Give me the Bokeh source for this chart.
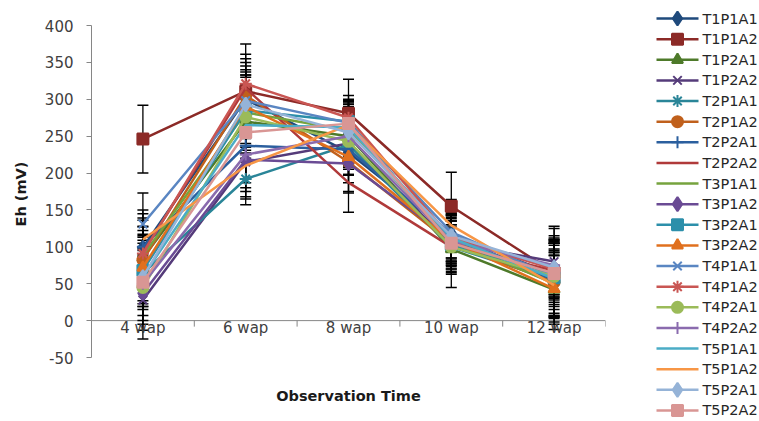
from bokeh.plotting import figure
from bokeh.layouts import row
from bokeh.models import (Range1d, FixedTicker, ColumnDataSource, Whisker, TeeHead, Span)
from bokeh.core.properties import value
from bokeh.embed import file_html
from bokeh.resources import INLINE

# ---------------- data ----------------
categories = ["4 wap", "6 wap", "8 wap", "10 wap", "12 wap"]
y_ticks = [-50, 0, 50, 100, 150, 200, 250, 300, 350, 400]

series_names = ["T1P1A1", "T1P1A2", "T1P2A1", "T1P2A2", "T2P1A1", "T2P1A2", "T2P2A1",
                "T2P2A2", "T3P1A1", "T3P1A2", "T3P2A1", "T3P2A2", "T4P1A1", "T4P1A2",
                "T4P2A1", "T4P2A2", "T5P1A1", "T5P1A2", "T5P2A1", "T5P2A2"]

eh_T1P1A1 = [99, 300, 228, 118, 62]
eh_T1P1A2 = [246, 311, 281, 155, 65]
eh_T1P2A1 = [85, 270, 250, 97, 42]
eh_T1P2A2 = [28, 215, 240, 105, 80]
eh_T2P1A1 = [64, 192, 238, 100, 55]
eh_T2P1A2 = [82, 305, 215, 105, 52]
eh_T2P2A1 = [100, 237, 232, 115, 55]
eh_T2P2A2 = [92, 315, 187, 100, 68]
eh_T3P1A1 = [88, 282, 258, 110, 50]
eh_T3P1A2 = [37, 218, 213, 110, 62]
eh_T3P2A1 = [68, 285, 270, 103, 58]
eh_T3P2A2 = [72, 290, 222, 108, 43]
eh_T4P1A1 = [131, 298, 268, 120, 60]
eh_T4P1A2 = [91, 321, 275, 112, 70]
eh_T4P2A1 = [45, 276, 243, 100, 60]
eh_T4P2A2 = [50, 225, 250, 108, 75]
eh_T5P1A1 = [60, 265, 262, 112, 57]
eh_T5P1A2 = [110, 210, 265, 129, 48]
eh_T5P2A1 = [59, 293, 255, 115, 72]
eh_T5P2A2 = [52, 255, 267, 105, 64]

sd_T1P1A1 = [40, 40, 30, 25, 30]
sd_T1P1A2 = [46, 64, 46, 46, 40]
sd_T1P2A1 = [30, 50, 40, 30, 47]
sd_T1P2A2 = [53, 40, 35, 30, 45]
sd_T2P1A1 = [45, 35, 40, 55, 50]
sd_T2P1A2 = [40, 45, 40, 40, 45]
sd_T2P2A1 = [45, 50, 35, 35, 50]
sd_T2P2A2 = [35, 40, 40, 30, 40]
sd_T3P1A1 = [40, 55, 35, 25, 45]
sd_T3P1A2 = [50, 50, 40, 30, 40]
sd_T3P2A1 = [45, 45, 30, 40, 70]
sd_T3P2A2 = [45, 55, 35, 35, 45]
sd_T4P1A1 = [42, 35, 30, 40, 50]
sd_T4P1A2 = [45, 40, 30, 30, 40]
sd_T4P2A1 = [50, 45, 35, 30, 45]
sd_T4P2A2 = [50, 45, 30, 30, 40]
sd_T5P1A1 = [45, 40, 35, 35, 50]
sd_T5P1A2 = [40, 45, 30, 35, 45]
sd_T5P2A1 = [40, 40, 30, 30, 40]
sd_T5P2A2 = [45, 40, 30, 30, 45]

means = [eh_T1P1A1, eh_T1P1A2, eh_T1P2A1, eh_T1P2A2, eh_T2P1A1, eh_T2P1A2, eh_T2P2A1,
         eh_T2P2A2, eh_T3P1A1, eh_T3P1A2, eh_T3P2A1, eh_T3P2A2, eh_T4P1A1, eh_T4P1A2,
         eh_T4P2A1, eh_T4P2A2, eh_T5P1A1, eh_T5P1A2, eh_T5P2A1, eh_T5P2A2]
sds = [sd_T1P1A1, sd_T1P1A2, sd_T1P2A1, sd_T1P2A2, sd_T2P1A1, sd_T2P1A2, sd_T2P2A1,
       sd_T2P2A2, sd_T3P1A1, sd_T3P1A2, sd_T3P2A1, sd_T3P2A2, sd_T4P1A1, sd_T4P1A2,
       sd_T4P2A1, sd_T4P2A2, sd_T5P1A1, sd_T5P1A2, sd_T5P2A1, sd_T5P2A2]

# ---------------- styles ----------------
colors = ["#1F4A7C", "#8C2A27", "#4E7A2A", "#553B7A", "#2A8598", "#C0601C", "#2B5F9E",
          "#B03A3A", "#76A33E", "#6A4B94", "#2C8FAA", "#E0701E", "#5A86C2", "#C95653",
          "#9BBB59", "#8A6BAE", "#4BACC6", "#F79646", "#95B3D7", "#D99694"]
markers = ["diamond", "square", "triangle", "x", "asterisk", "circle", "cross", None, None,
           "diamond", "square", "triangle", "x", "asterisk", "circle", "cross", None, None,
           "diamond", "square"]
msize = {"diamond": 14, "square": 11, "triangle": 11, "x": 12, "asterisk": 12,
         "circle": 11, "cross": 12}

FONT = "DejaVu Sans"
AXIS_GRAY = "#868686"
TXT = "#404040"

W1, W2, H = 628, 131, 421
ML, MR, MT, MB = 91, 23, 25, 64
frame_h = H - MT - MB
px_per_unit = frame_h / (y_ticks[-1] - y_ticks[0])

p = figure(width=W1, height=H, output_backend="svg", toolbar_location=None,
           min_border_left=ML, min_border_right=MR, min_border_top=MT,
           min_border_bottom=MB,
           x_range=Range1d(0.5, len(categories) + 0.5),
           y_range=Range1d(y_ticks[0], y_ticks[-1]))
p.frame_align = False
p.outline_line_color = None
p.xgrid.visible = False
p.ygrid.visible = False

# y axis
p.yaxis.ticker = FixedTicker(ticks=y_ticks)
p.yaxis.major_label_overrides = {t: str(t) for t in y_ticks}
p.yaxis.axis_line_color = AXIS_GRAY
p.yaxis.major_tick_line_color = AXIS_GRAY
p.yaxis.major_tick_out = 5
p.yaxis.major_tick_in = 0
p.yaxis.minor_tick_line_color = None
p.yaxis.major_label_standoff = 13
p.yaxis.major_label_text_font = FONT
p.yaxis.major_label_text_font_size = "15px"
p.yaxis.major_label_text_color = TXT
p.yaxis.axis_label = "Eh  (mV)"
p.yaxis.axis_label_text_font = FONT
p.yaxis.axis_label_text_font_size = "14.5px"
p.yaxis.axis_label_text_font_style = "bold"
p.yaxis.axis_label_text_color = "#1a1a1a"
p.yaxis.axis_label_standoff = 13

# x axis (only title; category axis drawn at y = 0)
p.xaxis.ticker = FixedTicker(ticks=[])
p.xaxis.axis_line_color = None
p.xaxis.major_tick_line_color = None
p.xaxis.minor_tick_line_color = None
p.xaxis.major_tick_out = 0
p.xaxis.major_label_text_font_size = "0px"
p.xaxis.axis_label = "Observation Time"
p.xaxis.axis_label_text_font = FONT
p.xaxis.axis_label_text_font_size = "14.5px"
p.xaxis.axis_label_text_font_style = "bold"
p.xaxis.axis_label_text_color = "#1a1a1a"
p.xaxis.axis_label_standoff = 30

xpos = list(range(1, len(categories) + 1))
p.add_layout(Span(location=0, dimension="width", line_color=AXIS_GRAY, line_width=1,
                  level="underlay"))
bounds = [x + 0.5 for x in xpos]
p.segment(x0=bounds, y0=[0] * len(bounds), x1=bounds,
          y1=[-6 / px_per_unit] * len(bounds), line_color=AXIS_GRAY, line_width=1)
p.text(x=xpos, y=[-7 / px_per_unit] * len(xpos), text=categories,
       text_align="center", text_baseline="middle", text_font=value(FONT),
       text_font_size="15px", text_color=TXT)

for m, s, c, mk in zip(means, sds, colors, markers):
    src = ColumnDataSource(dict(x=xpos, y=m,
                                upper=[a + b for a, b in zip(m, s)],
                                lower=[a - b for a, b in zip(m, s)]))
    p.add_layout(Whisker(source=src, base="x", upper="upper", lower="lower",
                         line_color="black", line_width=1.3,
                         upper_head=TeeHead(size=11, line_color="black", line_width=1.5),
                         lower_head=TeeHead(size=11, line_color="black", line_width=1.5)))
    p.line("x", "y", source=src, line_color=c, line_width=2.5)
    if mk is not None:
        p.scatter("x", "y", source=src, marker=mk, size=msize[mk],
                  fill_color=c, line_color=c, line_width=2)

# ---------------- legend panel (screen-like coordinates) ----------------
p2 = figure(width=W2, height=H, output_backend="svg", toolbar_location=None,
            x_axis_location=None, y_axis_location=None, min_border=0,
            x_range=Range1d(0, W2), y_range=Range1d(H, 0))
p2.frame_align = False
p2.outline_line_color = None
p2.xgrid.visible = False
p2.ygrid.visible = False

ROW0, ROW_STEP = 18, 20.63
SW_X0, SW_X1, TXT_X = 28, 70, 74
row_y = [ROW0 + ROW_STEP * i for i in range(len(series_names))]
p2.segment(x0=[SW_X0] * len(row_y), y0=row_y, x1=[SW_X1] * len(row_y), y1=row_y,
           line_color=colors, line_width=2.5)
for y, c, mk in zip(row_y, colors, markers):
    if mk is not None:
        p2.scatter(x=[(SW_X0 + SW_X1) / 2], y=[y], marker=mk, size=msize[mk],
                   fill_color=c, line_color=c, line_width=2)
p2.text(x=[TXT_X] * len(row_y), y=row_y, text=series_names, text_align="left",
        text_baseline="middle", text_font=value(FONT), text_font_size="14.5px",
        text_color="#262626")

layout = row(p, p2, spacing=0)
open("out.html", "w").write(file_html(layout, INLINE))
